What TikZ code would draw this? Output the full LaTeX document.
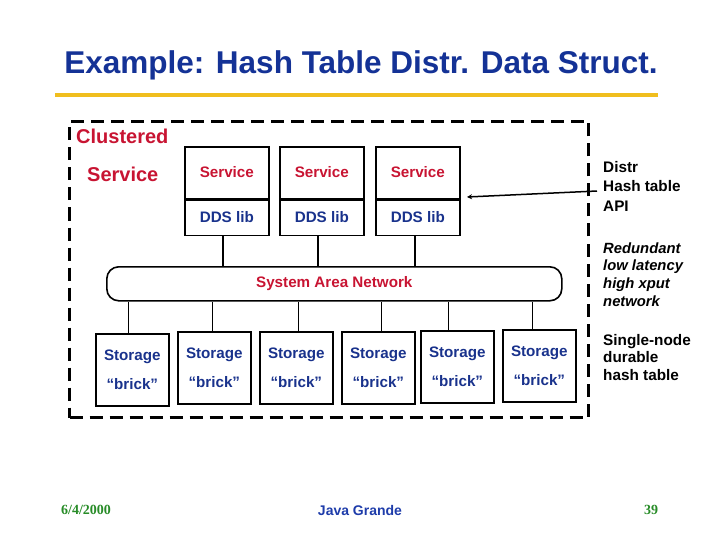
\documentclass[tikz,border=0pt]{standalone}
\usepackage{fontspec}
\setmainfont{Liberation Sans}
\newfontfamily\footserif{Liberation Serif}
\usetikzlibrary{arrows.meta}
\definecolor{titleblue}{RGB}{20,50,150}
\definecolor{txtblue}{RGB}{25,50,140}
\definecolor{txtred}{RGB}{200,20,50}
\definecolor{rulegold}{RGB}{240,190,30}
\definecolor{footgreen}{RGB}{40,140,40}
\definecolor{footblue}{RGB}{30,60,170}
\begin{document}
\begin{tikzpicture}[x=1pt,y=-1pt,
  box/.style={draw=black,line width=1.6pt,inner sep=0pt,anchor=north west},
  svcbox/.style={box,minimum width=84pt,minimum height=52pt,text=txtred,font=\fontsize{15.2}{19}\selectfont\bfseries},
  ddsbox/.style={box,minimum width=84pt,minimum height=35pt,text=txtblue,font=\fontsize{15.2}{19}\selectfont\bfseries},
  stbox/.style={box,minimum width=73pt,minimum height=72pt,text=txtblue,align=center,font=\fontsize{15.2}{29}\selectfont\bfseries},
  wire/.style={draw=black,line width=1.6pt},
  sidetext/.style={anchor=west,align=left,inner sep=0pt,font=\fontsize{15.3}{19.5}\selectfont\bfseries}
]
\useasboundingbox (0,0) rectangle (720,540);

% title
\node[font=\fontsize{31.5}{36}\selectfont\bfseries,text=titleblue] (title) at (361,65) {Example: Hash Table Distr. Data Struct.};
\draw[rulegold,line width=4pt] (55,95) -- (658,95);

% cluster frame
\node[draw=black,line width=3pt,dash pattern=on 13pt off 7pt,minimum width=519pt,minimum height=296pt,inner sep=0pt,anchor=north west] (cluster) at (68,120) {};
\node[anchor=base west,inner sep=0pt,text=txtred,font=\fontsize{20}{24}\selectfont\bfseries] (clab) at (76,144) {Clustered};
\node[anchor=west,inner sep=0pt,text=txtred,font=\fontsize{20}{24}\selectfont\bfseries] (slab) at (87,174) {Service};

% service boxes
\node[svcbox] (svc1) at (184,146) {\raisebox{2pt}{Service}};
\node[ddsbox] (dds1) at (svc1.south west) {\raisebox{1.5pt}{DDS lib}};
\node[svcbox] (svc2) at (279,146) {\raisebox{2pt}{Service}};
\node[ddsbox] (dds2) at (svc2.south west) {\raisebox{1.5pt}{DDS lib}};
\node[svcbox] (svc3) at (375,146) {\raisebox{2pt}{Service}};
\node[ddsbox] (dds3) at (svc3.south west) {\raisebox{1.5pt}{DDS lib}};

% SAN
\node[draw=black,line width=1.6pt,rounded corners=12pt,minimum width=455pt,minimum height=34pt,inner sep=0pt,anchor=north west,text=txtred,font=\fontsize{15.2}{19}\selectfont\bfseries] (san) at (106,266) {System Area Network};

\draw[wire] ([xshift=-4pt]dds1.south) -- ([xshift=-4pt]dds1.south |- san.north);
\draw[wire] ([xshift=-4pt]dds2.south) -- ([xshift=-4pt]dds2.south |- san.north);
\draw[wire] ([xshift=-3pt]dds3.south) -- ([xshift=-3pt]dds3.south |- san.north);

% storage bricks
\node[stbox] (st1) at (95,333) {Storage\\“brick”};
\node[stbox] (st2) at (177,331) {Storage\\“brick”};
\node[stbox] (st3) at (259,331) {Storage\\“brick”};
\node[stbox] (st4) at (341,331) {Storage\\“brick”};
\node[stbox] (st5) at (420,330) {Storage\\“brick”};
\node[stbox] (st6) at (502,329) {Storage\\“brick”};

\draw[wire] ([xshift=-4pt]st1.north) -- ([xshift=-4pt]st1.north |- san.south);
\draw[wire] ([xshift=-2pt]st2.north) -- ([xshift=-2pt]st2.north |- san.south);
\draw[wire] ([xshift=2pt]st3.north) -- ([xshift=2pt]st3.north |- san.south);
\draw[wire] ([xshift=3pt]st4.north) -- ([xshift=3pt]st4.north |- san.south);
\draw[wire] ([xshift=-9pt]st5.north) -- ([xshift=-9pt]st5.north |- san.south);
\draw[wire] ([xshift=-7pt]st6.north) -- ([xshift=-7pt]st6.north |- san.south);

% side annotations
\node[sidetext] (api) at (603,186) {Distr\\Hash table\\API};
\node[sidetext,font=\fontsize{14.8}{17.7}\selectfont\bfseries\itshape] (net) at (603,274.5) {Redundant\\low latency\\high xput\\network};
\node[sidetext,font=\fontsize{15.3}{17.5}\selectfont\bfseries] (single) at (603,357.5) {Single-node\\durable\\hash table};

\coordinate (apiend) at (597,191);
\coordinate (arrtip) at (467,197);
\draw[line width=1.5pt,-{Stealth[length=5pt,width=5pt]}] (apiend) -- (arrtip);

% footer
\node[text=footgreen,font=\fontsize{14}{16}\selectfont\footserif\bfseries] (date) at (86,510) {6/4/2000};
\node[text=footblue,font=\fontsize{14}{16}\selectfont\bfseries] (conf) at (360,510) {Java Grande};
\node[text=footgreen,font=\fontsize{14}{16}\selectfont\footserif\bfseries] (page) at (651,510) {39};
\end{tikzpicture}
\end{document}
